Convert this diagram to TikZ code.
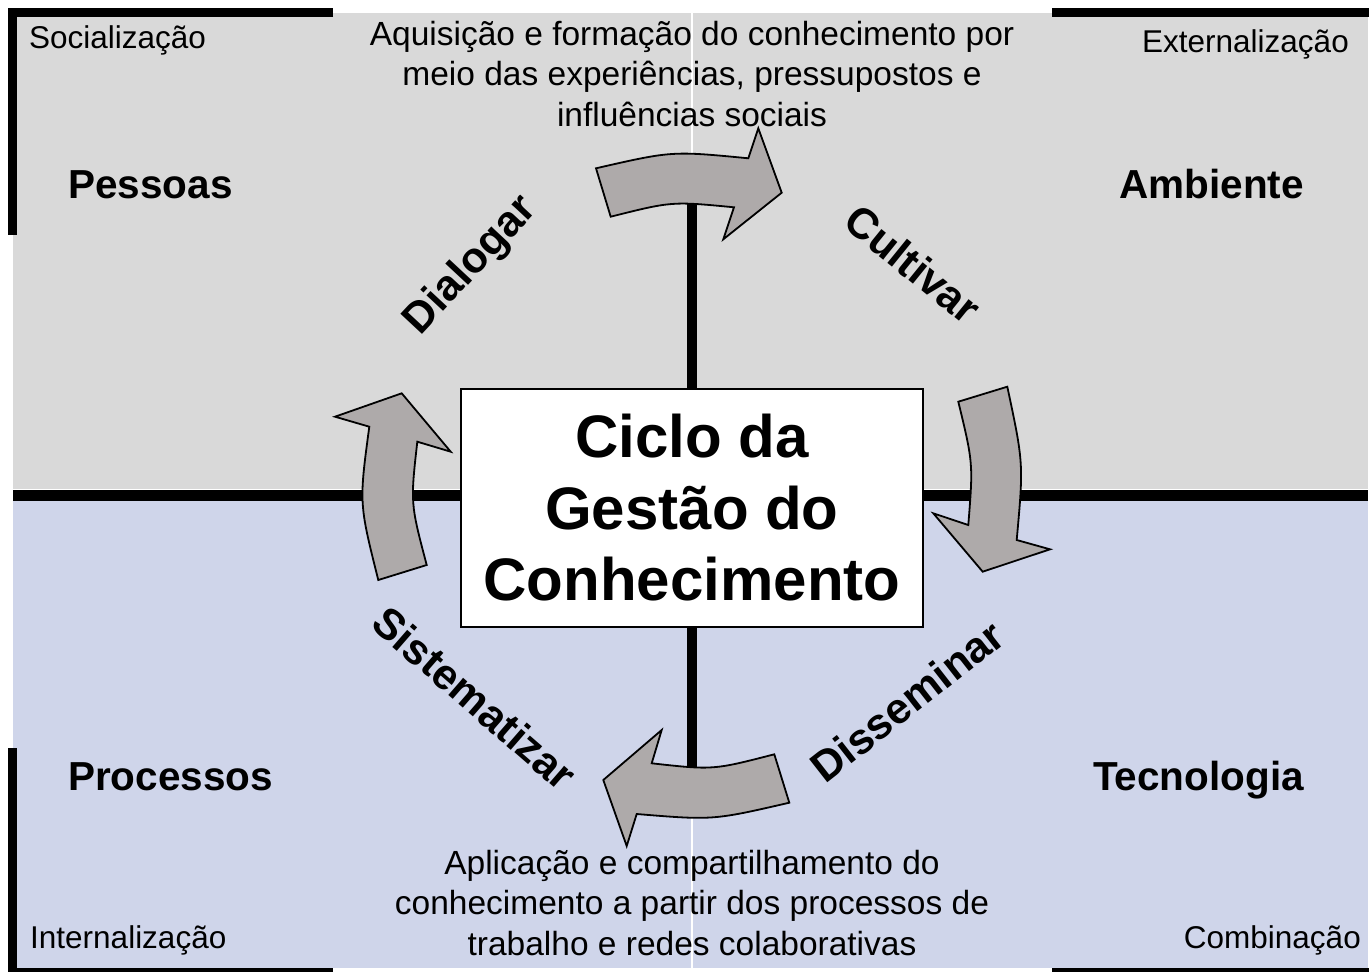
\documentclass[tikz,border=0pt]{standalone}
\usepackage{fontspec}
\setmainfont{Liberation Sans}
\definecolor{quadgray}{HTML}{D9D9D9}
\definecolor{quadblue}{HTML}{CFD5EA}
\definecolor{arrowfill}{HTML}{AEAAAA}
\begin{document}
\begin{tikzpicture}[x=1pt,y=-1pt,
  bracket/.style={line width=9pt},
  cyclearrow/.style={fill=arrowfill,draw=black,line width=1.8pt,line join=miter},
  para/.style={font=\fontsize{33.5}{40}\selectfont,inner sep=0pt,anchor=base},
  corner/.style={font=\fontsize{31.5}{37}\selectfont,inner sep=0pt},
  pillar/.style={font=\fontsize{40.5}{48}\selectfont\bfseries,inner sep=0pt},
  verb/.style={font=\fontsize{43}{50}\selectfont\bfseries,inner sep=0pt},
  corebox/.style={draw=black,line width=2pt,fill=white,minimum width=462pt,minimum height=238pt,inner sep=0pt,align=center,font=\fontsize{60}{71.5}\selectfont\bfseries}
]
\useasboundingbox[fill=white] (0,0) rectangle (1369,972);
% quadrants
\fill[quadgray] (13,13) rectangle (691.3,489);
\fill[quadgray] (692.7,13) rectangle (1367.5,489);
\fill[quadblue] (13,497) rectangle (691.3,968);
\fill[quadblue] (692.7,497) rectangle (1367.5,968);
% corner brackets
\draw[bracket] (333,12.5) -- (12.5,12.5) -- (12.5,235);
\draw[bracket] (1052,12.5) -- (1373,12.5) -- (1373,237);
\draw[bracket] (12.5,748) -- (12.5,972.5) -- (333,972.5);
\draw[bracket] (1052,972.5) -- (1373,972.5) -- (1373,748);
% axes
\coordinate (hl) at (13,495.5);
\coordinate (hr) at (1367.5,495.5);
\coordinate (vt) at (692,180);
\coordinate (vb) at (692,790);
\draw[line width=11pt] (hl) -- (hr);
\draw[line width=10pt] (vt) -- (vb);
% central box
\node[corebox] (core) at (692,508) {Ciclo da\\Gestão do\\Conhecimento};
% cycle arrows
\draw[cyclearrow] (596,168.3) .. controls (672,150.9) .. (748.3,158.3) -- (758.3,128.3) -- (781.7,192.7) -- (723.3,239.3) -- (734,207.3) .. controls (671.9,201.3) .. (610.7,216.7) -- cycle;
\draw[cyclearrow] (958.3,401.7) -- (1007.3,386.7) .. controls (1023.6,463.3) .. (1016.7,540) -- (1050,549.3) -- (982.7,571.7) -- (933.3,513.3) -- (968.3,525) .. controls (973.2,463.2) .. (958.3,401.7) -- cycle;
\draw[cyclearrow] (651.7,763.3) .. controls (713,770.1) .. (774.3,754.3) -- (789.3,802.7) .. controls (713,820.3) .. (636.7,814) -- (626.7,846) -- (603.3,780) -- (661.7,730) -- cycle;
\draw[cyclearrow] (401.7,393.3) -- (335,416.7) -- (369.3,426.7) .. controls (359,503.3) .. (378.3,580) -- (426.7,565) .. controls (410.4,503.3) .. (417.3,441.7) -- (450.7,451.7) -- cycle;
% verbs
\node[verb,rotate=47] (dialogar) at (471,266) {Dialogar};
\node[verb,rotate=-39] (cultivar) at (913,264) {Cultivar};
\node[verb,rotate=38] (disseminar) at (907,701) {Disseminar};
\node[verb,rotate=-41] (sistematizar) at (475,698) {Sistematizar};
% paragraphs
\node[para] (t1) at (692,45) {Aquisição e formação do conhecimento por};
\node[para] (t2) at (692,85.5) {meio das experiências, pressupostos e};
\node[para] (t3) at (692,126) {influências sociais};
\node[para] (b1) at (692,874) {Aplicação e compartilhamento do};
\node[para] (b2) at (692,914.5) {conhecimento a partir dos processos de};
\node[para] (b3) at (692,955) {trabalho e redes colaborativas};
% pillars
\node[pillar,anchor=base west] (pessoas) at (68,198) {Pessoas};
\node[pillar,anchor=base east] (ambiente) at (1304,198) {Ambiente};
\node[pillar,anchor=base west] (processos) at (68,790) {Processos};
\node[pillar,anchor=base east] (tecnologia) at (1304,790) {Tecnologia};
% corner labels
\node[corner,anchor=base west] (soc) at (29,48) {Socialização};
\node[corner,anchor=base east] (ext) at (1349,52) {Externalização};
\node[corner,anchor=base west] (int) at (30,948) {Internalização};
\node[corner,anchor=base east] (comb) at (1361,948) {Combinação};
\end{tikzpicture}
\end{document}
